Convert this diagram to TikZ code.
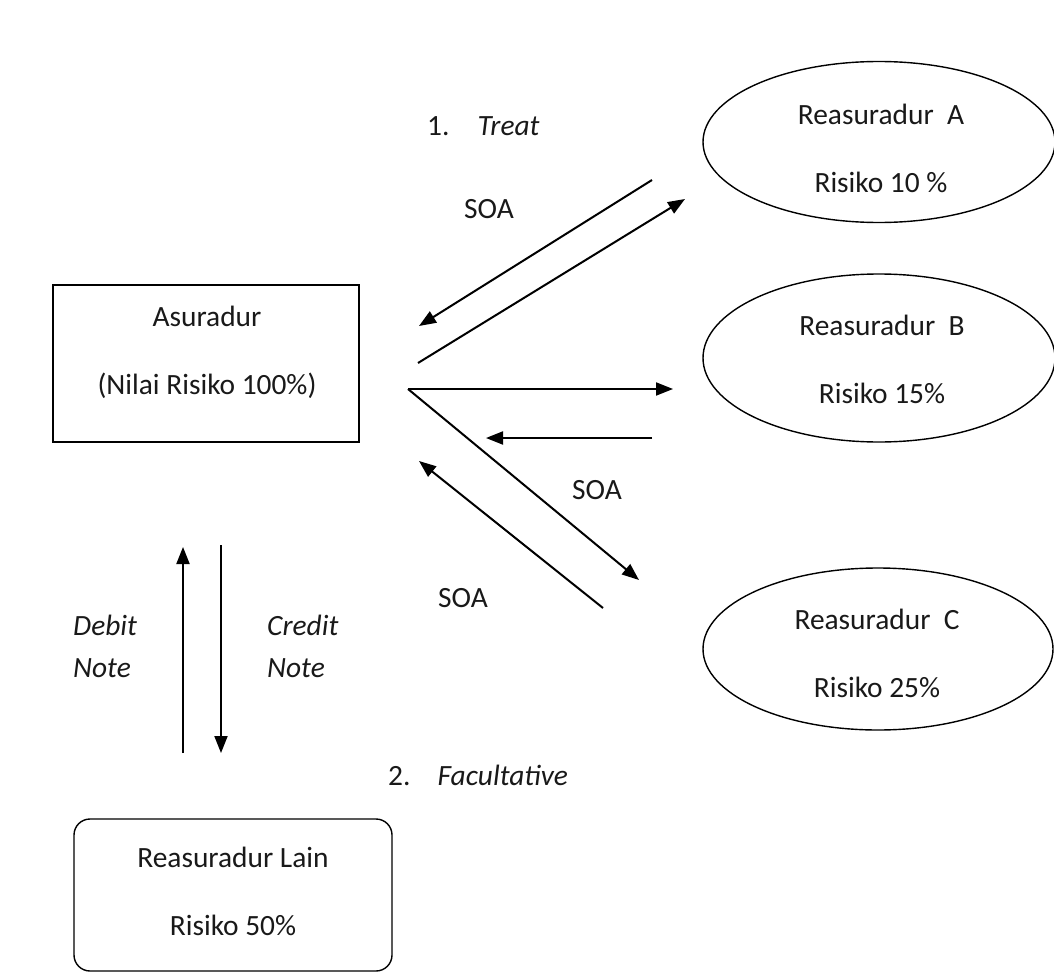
\documentclass[tikz,border=0pt]{standalone}
\usepackage{fontspec}
\setmainfont{Carlito}
\usetikzlibrary{arrows.meta,shapes.geometric}
\begin{document}
\begin{tikzpicture}[x=1pt,y=-1pt,
  txt/.style={font=\fontsize{29.4}{68}\selectfont, inner sep=0pt, align=center, text=black!90},
  note/.style={font=\fontsize{29.4}{42}\selectfont\itshape, inner sep=0pt, align=left, anchor=west, text=black!90},
  party/.style={draw, line width=1.4pt, inner sep=0pt},
  oval/.style={party, ellipse},
  flow/.style={line width=2pt, -{Triangle[length=17pt,width=13pt]}},
]
\useasboundingbox (0,0) rectangle (1054,979);

% parties
\node[party, rectangle, minimum width=306pt, minimum height=157pt] (asur) at (206,363.5) {};
\node[oval, minimum width=352pt, minimum height=161pt] (ra) at (879,142) {};
\node[oval, minimum width=352pt, minimum height=168pt] (rb) at (879,358) {};
\node[oval, minimum width=350pt, minimum height=162pt] (rc) at (878,649) {};
\node[party, rectangle, rounded corners=16pt, minimum width=318pt, minimum height=152pt] (lain) at (233,895) {};

% texts of the parties
\node[txt] (asurT) at (207,352) {Asuradur\\(Nilai Risiko 100\%)};
\node[txt] (raT) at (881,148) {Reasuradur~~A\\Risiko 10~\%};
\node[txt] (rbT) at (882,359) {Reasuradur~~B\\Risiko 15\%};
\node[txt] (rcT) at (877,653) {Reasuradur~~C\\Risiko 25\%};
\node[txt] (lainT) at (233,891) {Reasuradur Lain\\Risiko 50\%};

% headings and flow labels
\node[txt, anchor=west] (treaty) at (427,126) {1.\hspace{28pt}\textit{Treat}};
\node[txt, anchor=west] (facult) at (388,775) {2.\hspace{27pt}\textit{Facultative}};
\node[txt] (soaA) at (489,209) {SOA};
\node[txt] (soaB) at (597,490) {SOA};
\node[txt] (soaC) at (463,598) {SOA};
\node[note] (debit) at (73,646) {Debit\\Note};
\node[note] (credit) at (267,646) {Credit\\Note};

% end points of the flows
\coordinate (aOut) at (652,180);
\coordinate (aIn) at (419,326);
\coordinate (aFrom) at (418,363);
\coordinate (aTo) at (685,199);
\coordinate (hub) at (408,389);
\coordinate (bTo) at (673,389);
\coordinate (cTo) at (639,580);
\coordinate (bOut) at (652,438);
\coordinate (bIn) at (486,438);
\coordinate (cOut) at (603,608);
\coordinate (cIn) at (419,461);
\coordinate (upFrom) at (183,753);
\coordinate (upTo) at (183,547);
\coordinate (downFrom) at (221,545);
\coordinate (downTo) at (221,753);

% flows
\draw[flow] (aOut) -- (aIn);
\draw[flow] (aFrom) -- (aTo);
\draw[flow] (hub) -- (bTo);
\draw[flow] (hub) -- (cTo);
\draw[flow] (bOut) -- (bIn);
\draw[flow] (cOut) -- (cIn);
\draw[flow] (upFrom) -- (upTo);
\draw[flow] (downFrom) -- (downTo);
\end{tikzpicture}
\end{document}
